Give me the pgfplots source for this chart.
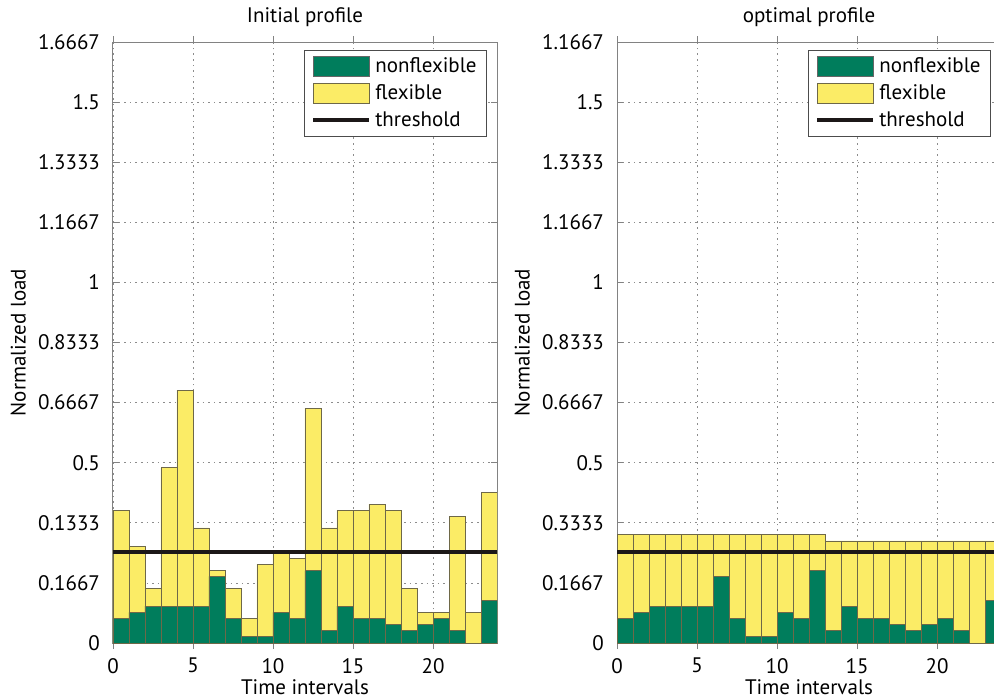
\documentclass[border=0pt]{standalone}
\usepackage{pgfplots}
\pgfplotsset{compat=1.18}
\usepackage{fontspec}
\setmainfont{PT Sans}
\definecolor{nfgreen}{RGB}{0,125,92}
\definecolor{flyellow}{RGB}{251,236,102}
\definecolor{baredge}{RGB}{110,104,72}
\definecolor{axgray}{RGB}{130,130,130}
\definecolor{thr}{RGB}{28,24,24}

\pgfplotsset{
  panel/.style={
    scale only axis, width=192pt, height=300.5pt,
    xmin=0, xmax=24, ymin=0, ymax=1.66667,
    xtick={0,5,10,15,20},
    ytick={0,0.16667,0.33333,0.5,0.66667,0.83333,1,1.16667,1.33333,1.5,1.66667},
    tick align=inside, major tick length=3pt,
    tick style={axgray, line width=0.4pt},
    axis line style={axgray, line width=0.5pt},
    grid=major,
    major grid style={dash pattern=on 0.8pt off 2pt, black!45, line width=0.4pt},
    ybar, bar width=1, bar shift=0pt,
    /pgf/number format/assume math mode=true,
    ticklabel style={font=\fontsize{10.5}{12}\selectfont},
    xticklabel style={yshift=-1pt},
    yticklabel style={xshift=-3pt},
    label style={font=\fontsize{10.5}{12}\selectfont},
    title style={font=\fontsize{10.5}{12}\selectfont, at={(axis description cs:0.5,1.0416)}, anchor=center, yshift=-6pt},
    xlabel={Time intervals},
    xlabel style={at={(axis description cs:0.5,-0.0735)}, anchor=center, inner sep=1pt},
    ylabel={Normalized load},
    ylabel style={at={(axis description cs:-0.2084,0.5)}, anchor=south},
    legend style={at={(axis description cs:1,1)}, anchor=north east,
      xshift=-5pt, yshift=-4pt, draw=black!70, line width=0.4pt,
      font=\fontsize{10.5}{12}\selectfont, inner xsep=3pt, inner ysep=1.5pt,
      row sep=0.5pt, cells={anchor=west}},
    legend cell align=left,
  },
  barimg/.style={legend image code/.code={\draw[##1, line width=0.4pt] (0pt,-5pt) rectangle (28pt,5pt);}},
  lineimg/.style={legend image code/.code={\draw[##1] (0pt,0pt) -- (28pt,0pt);}},
}

\pgfplotstableread{
x     total  nonflex
0.5   0.368  0.068
1.5   0.269  0.085
2.5   0.151  0.102
3.5   0.486  0.102
4.5   0.701  0.102
5.5   0.319  0.102
6.5   0.201  0.185
7.5   0.151  0.068
8.5   0.068  0.018
9.5   0.219  0.018
10.5  0.252  0.085
11.5  0.235  0.068
12.5  0.651  0.201
13.5  0.319  0.035
14.5  0.368  0.102
15.5  0.368  0.068
16.5  0.385  0.068
17.5  0.368  0.052
18.5  0.151  0.035
19.5  0.085  0.052
20.5  0.085  0.068
21.5  0.352  0.035
22.5  0.085  0.000
23.5  0.418  0.118
}\initialtab

\pgfplotstableread{
x     total  nonflex
0.5   0.301  0.068
1.5   0.301  0.085
2.5   0.301  0.102
3.5   0.301  0.102
4.5   0.301  0.102
5.5   0.301  0.102
6.5   0.301  0.185
7.5   0.301  0.068
8.5   0.301  0.018
9.5   0.301  0.018
10.5  0.301  0.085
11.5  0.301  0.068
12.5  0.301  0.201
13.5  0.283  0.035
14.5  0.283  0.102
15.5  0.283  0.068
16.5  0.283  0.068
17.5  0.283  0.052
18.5  0.283  0.035
19.5  0.283  0.052
20.5  0.283  0.068
21.5  0.283  0.035
22.5  0.283  0.000
23.5  0.283  0.118
}\optimaltab

\pgfplotstableread{
x   y
0   0.252
24  0.252
}\thresh

\begin{document}
\begin{tikzpicture}
\path[use as bounding box] (-56.5pt,-27.5pt) rectangle (440.5pt,321.5pt);
\begin{axis}[panel, title={Initial profile},
  yticklabels={0,0.1667,0.1333,0.5,0.6667,0.8333,1,1.1667,1.3333,1.5,1.6667}]
  \addplot[fill=flyellow, draw=baredge, line width=0.4pt, forget plot] table[x=x,y=total] {\initialtab};
  \addplot[fill=nfgreen, draw=baredge, line width=0.4pt, forget plot] table[x=x,y=nonflex] {\initialtab};
  \addplot[sharp plot, thr, line width=2.3pt, forget plot] table[x=x,y=y] {\thresh};
  \addlegendimage{barimg, fill=nfgreen, draw=black!60}
  \addlegendentry{nonflexible}
  \addlegendimage{barimg, fill=flyellow, draw=baredge}
  \addlegendentry{flexible}
  \addlegendimage{lineimg, thr, line width=2.3pt}
  \addlegendentry{threshold}
\end{axis}
\begin{axis}[panel, xshift=252pt, title={optimal profile},
  yticklabels={0,0.1667,0.3333,0.5,0.6667,0.8333,1,1.1667,1.3333,1.5,1.1667}]
  \addplot[fill=flyellow, draw=baredge, line width=0.4pt, forget plot] table[x=x,y=total] {\optimaltab};
  \addplot[fill=nfgreen, draw=baredge, line width=0.4pt, forget plot] table[x=x,y=nonflex] {\optimaltab};
  \addplot[sharp plot, thr, line width=2.3pt, forget plot] table[x=x,y=y] {\thresh};
  \addlegendimage{barimg, fill=nfgreen, draw=black!60}
  \addlegendentry{nonflexible}
  \addlegendimage{barimg, fill=flyellow, draw=baredge}
  \addlegendentry{flexible}
  \addlegendimage{lineimg, thr, line width=2.3pt}
  \addlegendentry{threshold}
\end{axis}
\end{tikzpicture}
\end{document}
